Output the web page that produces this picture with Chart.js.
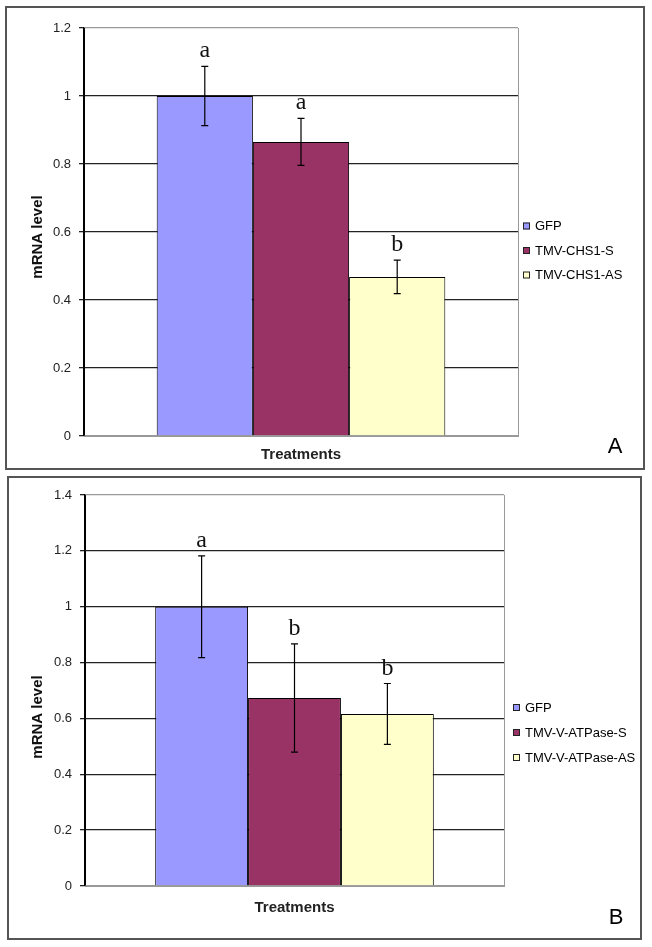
<!DOCTYPE html>
<html>
<head>
<meta charset="utf-8">
<script src="https://cdn.jsdelivr.net/npm/chart.js@4.4.1/dist/chart.umd.min.js"></script>
<style>
    body { margin: 0; background: #fff; }
    #page { position: relative; width: 652px; height: 947px; }
    canvas { position: absolute; left: 0; }
    .frame { position: absolute; border: 2px solid #555; box-sizing: border-box; pointer-events: none; }
</style>
</head>
<body>
<div id="page">
    <canvas id="chartA" width="652" height="472" style="top:0"></canvas>
    <canvas id="chartB" width="652" height="475" style="top:472px"></canvas>
    <div class="frame" style="left:5px;top:6px;width:640px;height:464px"></div>
    <div class="frame" style="left:7px;top:476px;width:635px;height:464px"></div>
</div>
<script>
    "use strict";

    var categories = [''];
    var colors = ['#9999FF', '#993366', '#FFFFCC'];

    // panel A
    var seriesA = ['GFP', 'TMV-CHS1-S', 'TMV-CHS1-AS'];
    var valuesA = [1.0, 0.865, 0.468];
    var errorsA = [0.087, 0.069, 0.049];
    var lettersA = ['a', 'a', 'b'];
    var tickLabelsA = ['0', '0.2', '0.4', '0.6', '0.8', '1', '1.2'];

    // panel B
    var seriesB = ['GFP', 'TMV-V-ATPase-S', 'TMV-V-ATPase-AS'];
    var valuesB = [1.0, 0.673, 0.616];
    var errorsB = [0.182, 0.194, 0.109];
    var lettersB = ['a', 'b', 'b'];
    var tickLabelsB = ['0', '0.2', '0.4', '0.6', '0.8', '1', '1.2', '1.4'];

    Chart.defaults.font.family = '"Liberation Sans", Arial, sans-serif';
    Chart.defaults.color = '#222';

    // error bars, letters, legend, y title and panel letter
    var overlay = {
        id: 'overlay',
        afterDatasetsDraw: function (chart, args, opts) {
            var ctx = chart.ctx;
            var y = chart.scales.y;
            ctx.save();
            chart.data.datasets.forEach(function (ds, i) {
                var bar = chart.getDatasetMeta(i).data[0];
                var v = ds.data[0];
                var e = opts.errors[i];
                var top = y.getPixelForValue(v + e);
                var bot = y.getPixelForValue(v - e);
                ctx.strokeStyle = '#000';
                ctx.lineWidth = 1.2;
                ctx.beginPath();
                ctx.moveTo(bar.x, top); ctx.lineTo(bar.x, bot);
                ctx.moveTo(bar.x - 3.5, top); ctx.lineTo(bar.x + 3.5, top);
                ctx.moveTo(bar.x - 3.5, bot); ctx.lineTo(bar.x + 3.5, bot);
                ctx.stroke();

                ctx.fillStyle = '#111';
                ctx.font = '24px "Liberation Serif", "Times New Roman", serif';
                ctx.textAlign = 'center';
                ctx.textBaseline = 'alphabetic';
                ctx.fillText(opts.letters[i], bar.x, top - 9);

                // legend entry
                var ly = opts.legendY + i * opts.legendDy;
                ctx.fillStyle = ds.backgroundColor;
                ctx.fillRect(opts.legendX, ly - 3.5, 7, 7);
                ctx.strokeStyle = '#222';
                ctx.lineWidth = 1;
                ctx.strokeRect(opts.legendX + 0.5, ly - 3, 6, 6);
                ctx.fillStyle = '#000';
                ctx.font = '13px "Liberation Sans", Arial, sans-serif';
                ctx.textAlign = 'left';
                ctx.textBaseline = 'middle';
                ctx.fillText(ds.label, opts.legendX + 12, ly + 0.5);
            });

            ctx.fillStyle = '#111';
            ctx.font = 'bold 15px "Liberation Sans", Arial, sans-serif';
            ctx.textAlign = 'center';
            ctx.textBaseline = 'middle';
            ctx.translate(opts.titleX, opts.titleY);
            ctx.rotate(-Math.PI / 2);
            ctx.fillText(opts.yTitle, 0, 0);
            ctx.setTransform(1, 0, 0, 1, 0, 0);

            ctx.font = '22px "Liberation Sans", Arial, sans-serif';
            ctx.fillStyle = '#000';
            ctx.fillText(opts.panel, opts.panelX, opts.panelY);
            ctx.restore();
        }
    };

    function makeChart(id, cfg) {
        var datasets = cfg.series.map(function (name, i) {
            return {
                label: name,
                data: [cfg.values[i]],
                backgroundColor: colors[i],
                borderColor: '#000',
                borderWidth: 1,
                categoryPercentage: 0.665,
                barPercentage: 1.0
            };
        });
        var last = cfg.tickLabels.length - 1;
        return new Chart(document.getElementById(id), {
            type: 'bar',
            data: { labels: categories, datasets: datasets },
            plugins: [overlay],
            options: {
                responsive: false,
                animation: false,
                layout: { padding: cfg.padding },
                scales: {
                    x: {
                        ticks: { display: false },
                        grid: {
                            offset: true,
                            drawTicks: false,
                            color: function (c) { return c.index === 0 ? '#000' : '#999'; }
                        },
                        border: { color: '#999', width: 1 },
                        title: {
                            display: true,
                            text: 'Treatments',
                            color: '#222',
                            font: { size: 15, weight: 'bold' },
                            padding: { top: 0, bottom: cfg.xTitlePad }
                        },
                        afterFit: function (s) { s.height = cfg.xHeight; }
                    },
                    y: {
                        min: 0,
                        max: cfg.max,
                        ticks: {
                            stepSize: 0.2,
                            padding: 8,
                            color: '#222',
                            font: { size: 13 },
                            callback: function (v, i) { return cfg.tickLabels[i]; }
                        },
                        grid: {
                            tickLength: 5,
                            tickColor: '#222',
                            lineWidth: 1.3,
                            color: function (c) {
                                return (c.index === 0 || c.index === last) ? '#999' : '#222';
                            }
                        },
                        border: { color: '#000', width: 1.3 },
                        afterFit: function (s) { s.width = cfg.yWidth; }
                    }
                },
                plugins: {
                    legend: { display: false },
                    tooltip: { enabled: false },
                    overlay: {
                        errors: cfg.errors,
                        letters: cfg.letters,
                        legendX: cfg.legendX,
                        legendY: cfg.legendY,
                        legendDy: cfg.legendDy,
                        yTitle: 'mRNA level',
                        titleX: 38,
                        titleY: cfg.titleY,
                        panel: cfg.panel,
                        panelX: cfg.panelX,
                        panelY: cfg.panelY
                    }
                }
            }
        });
    }

    makeChart('chartA', {
        series: seriesA, values: valuesA, errors: errorsA, letters: lettersA,
        tickLabels: tickLabelsA, max: 1.2,
        padding: { top: 28, right: 134, left: 0, bottom: 0 },
        yWidth: 84, xHeight: 36, xTitlePad: 8.5,
        legendX: 523, legendY: 226, legendDy: 24.5,
        titleY: 237, panel: 'A', panelX: 615, panelY: 447
    });

    makeChart('chartB', {
        series: seriesB, values: valuesB, errors: errorsB, letters: lettersB,
        tickLabels: tickLabelsB, max: 1.4,
        padding: { top: 23, right: 148, left: 0, bottom: 0 },
        yWidth: 85, xHeight: 61, xTitlePad: 30.5,
        legendX: 513, legendY: 235.5, legendDy: 25,
        titleY: 245, panel: 'B', panelX: 616, panelY: 446
    });
</script>
</body>
</html>
